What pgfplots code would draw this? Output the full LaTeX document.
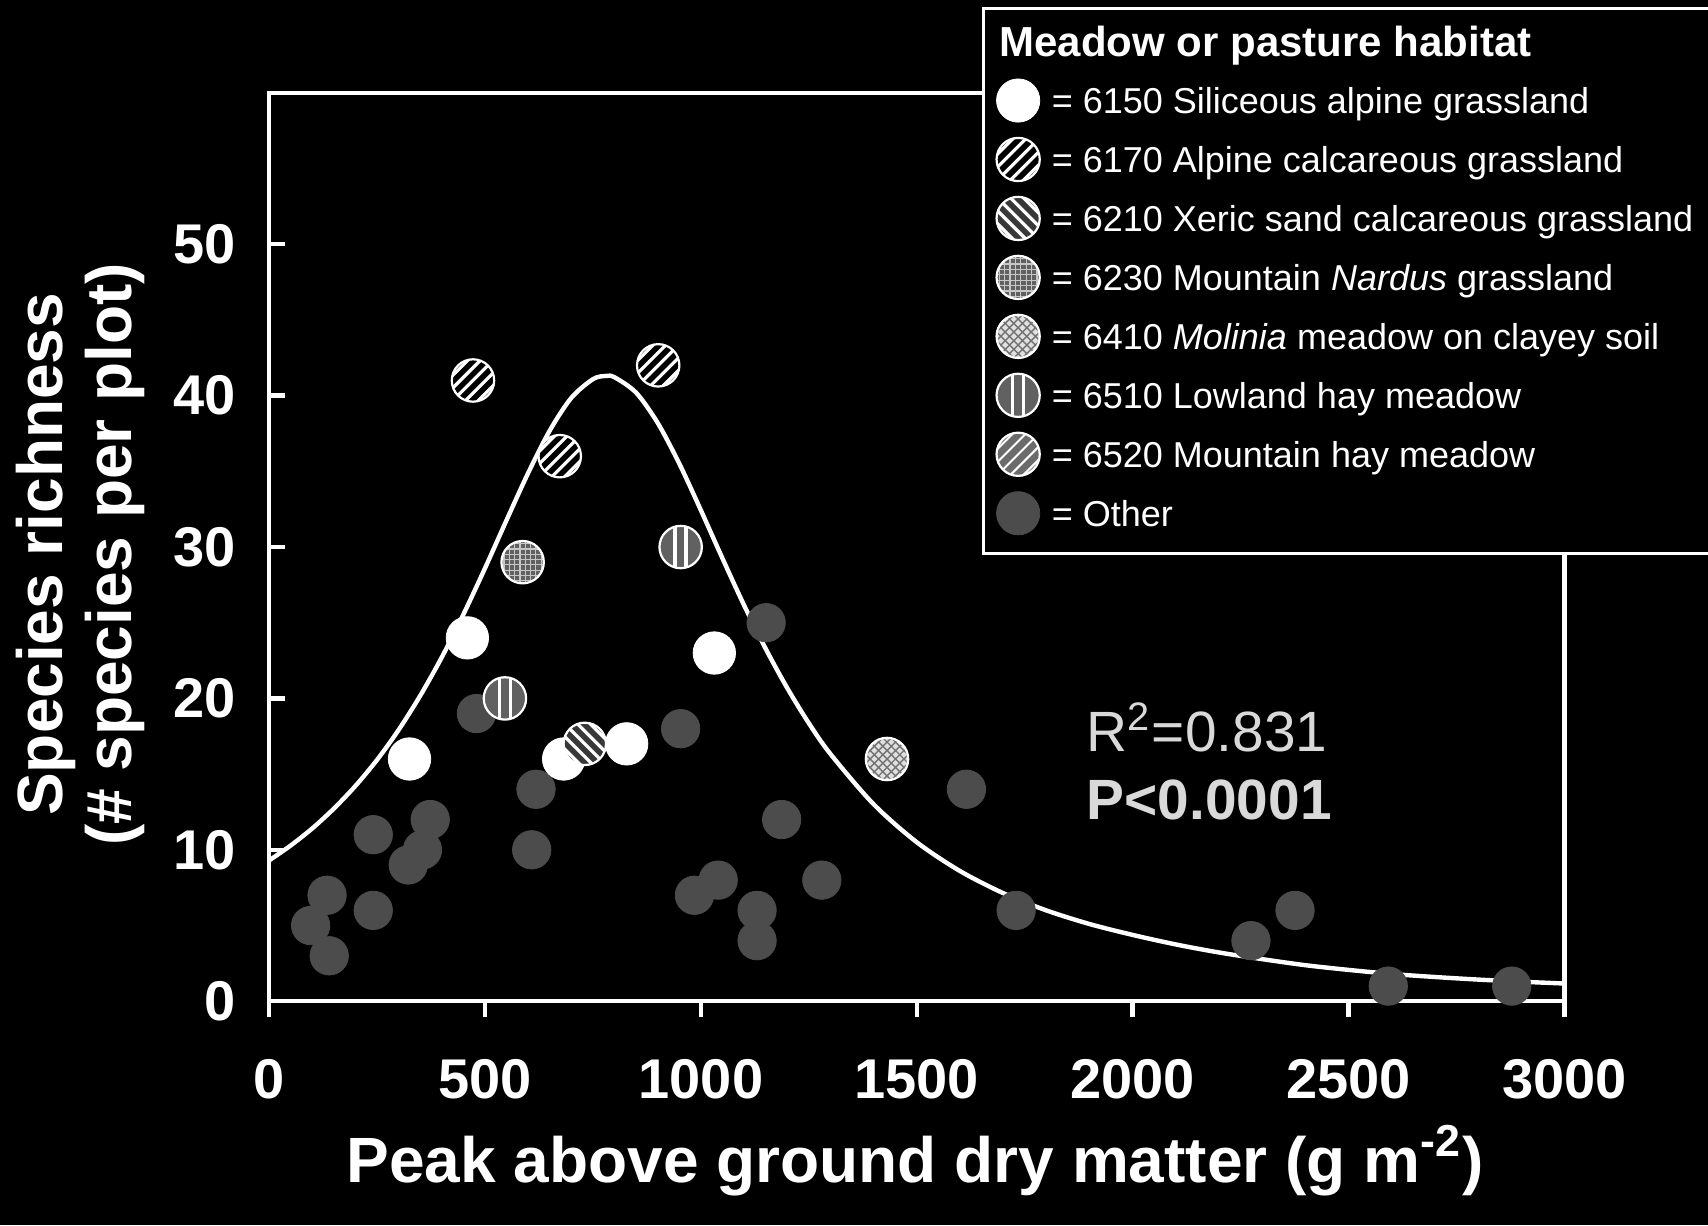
\documentclass[border=0pt]{standalone}
\usepackage{fontspec}
\setmainfont{Liberation Sans}
\usepackage{pgfplots}
\pgfplotsset{compat=1.18}

% ---- hatch helpers (offsets in units of the mark radius) ----
\newcommand\lineNE[1]{%
  \pgfpathmoveto{\pgfqpoint{-1.2\pgfplotmarksize}{\dimexpr -1.2\pgfplotmarksize + #1\pgfplotmarksize\relax}}%
  \pgfpathlineto{\pgfqpoint{1.2\pgfplotmarksize}{\dimexpr 1.2\pgfplotmarksize + #1\pgfplotmarksize\relax}}}
\newcommand\lineNW[1]{%
  \pgfpathmoveto{\pgfqpoint{-1.2\pgfplotmarksize}{\dimexpr 1.2\pgfplotmarksize + #1\pgfplotmarksize\relax}}%
  \pgfpathlineto{\pgfqpoint{1.2\pgfplotmarksize}{\dimexpr -1.2\pgfplotmarksize + #1\pgfplotmarksize\relax}}}
\newcommand\lineV[1]{%
  \pgfpathmoveto{\pgfqpoint{#1\pgfplotmarksize}{-1.2\pgfplotmarksize}}%
  \pgfpathlineto{\pgfqpoint{#1\pgfplotmarksize}{1.2\pgfplotmarksize}}}
\newcommand\lineH[1]{%
  \pgfpathmoveto{\pgfqpoint{-1.2\pgfplotmarksize}{#1\pgfplotmarksize}}%
  \pgfpathlineto{\pgfqpoint{1.2\pgfplotmarksize}{#1\pgfplotmarksize}}}

% disc with background colour #1, clipped hatching (#2 colour, #3 width, #4 lines), white ring
\newcommand\hatchedmark[4]{%
  \pgfpathcircle{\pgfpointorigin}{\pgfplotmarksize}%
  \pgfsetfillcolor{#1}\pgfusepath{fill}%
  \begin{pgfscope}%
    \pgfpathcircle{\pgfpointorigin}{\pgfplotmarksize}\pgfusepath{clip}%
    \pgfsetstrokecolor{#2}\pgfsetlinewidth{#3}\pgfsetbuttcap
    #4%
    \pgfusepath{stroke}%
  \end{pgfscope}%
  \pgfpathcircle{\pgfpointorigin}{\pgfplotmarksize}%
  \pgfsetstrokecolor{white}\pgfsetlinewidth{0.55pt}\pgfusepath{stroke}%
}

\pgfdeclareplotmark{h6170}{\hatchedmark{black}{white}{0.8pt}%
  {\lineNE{-1.2}\lineNE{-0.6}\lineNE{0}\lineNE{0.6}\lineNE{1.2}}}
\pgfdeclareplotmark{h6210}{\hatchedmark{black!78}{white}{0.8pt}%
  {\lineNW{-1.2}\lineNW{-0.6}\lineNW{0}\lineNW{0.6}\lineNW{1.2}}}
\pgfdeclareplotmark{h6230}{\hatchedmark{black!62}{black!22}{0.3pt}%
  {\lineH{-0.875}\lineH{-0.625}\lineH{-0.375}\lineH{-0.125}\lineH{0.125}\lineH{0.375}\lineH{0.625}\lineH{0.875}%
   \lineV{-0.875}\lineV{-0.625}\lineV{-0.375}\lineV{-0.125}\lineV{0.125}\lineV{0.375}\lineV{0.625}\lineV{0.875}}}
\pgfdeclareplotmark{h6410}{\hatchedmark{white!88!black}{black!55}{0.35pt}%
  {\lineNE{-1.2}\lineNE{-0.8}\lineNE{-0.4}\lineNE{0}\lineNE{0.4}\lineNE{0.8}\lineNE{1.2}%
   \lineNW{-1.2}\lineNW{-0.8}\lineNW{-0.4}\lineNW{0}\lineNW{0.4}\lineNW{0.8}\lineNW{1.2}}}
\pgfdeclareplotmark{h6510}{\hatchedmark{black!62}{white}{0.8pt}%
  {\lineV{-0.27}\lineV{0.25}}}
\pgfdeclareplotmark{h6520}{\hatchedmark{black!58}{white}{0.5pt}%
  {\lineNE{-1.2}\lineNE{-0.6}\lineNE{0}\lineNE{0.6}\lineNE{1.2}}}

\colorlet{othergray}{black!70}

\begin{document}
\begin{tikzpicture}
\fill[black] (-67.3pt,-55.98pt) rectangle (359.7pt,250.3pt);
\begin{scope}
\clip (-67.3pt,-55.98pt) rectangle (359.7pt,250.3pt);
\begin{axis}[
  at={(0pt,0pt)}, anchor=south west,
  scale only axis, width=323.8pt, height=227.1pt,
  xmin=0, xmax=3000, ymin=0, ymax=60,
  xtick={0,500,...,3000}, ytick={0,10,...,50},
  clip=false, axis on top,
  axis line style={draw=white, line width=1.1pt},
  tick style={draw=white, line width=1.1pt},
  major tick length=4pt,
  xtick align=outside, ytick align=inside, tick pos=left,
  /pgf/number format/assume math mode=true,
  /pgf/number format/1000 sep={},
  tick label style={font=\bfseries\fontsize{14}{16}\selectfont, text=white},
  xticklabel style={anchor=base, yshift=-20.4pt, inner sep=0pt},
  yticklabel style={anchor=east, xshift=-8.2pt, inner sep=0pt},
  xlabel={Peak above ground dry matter (g m\textsuperscript{-2})},
  xlabel style={at={(axis description cs:0.4987,-0.199)}, anchor=base,
    font=\bfseries\fontsize{16}{18}\selectfont, text=white},
  ylabel={Species richness\\(\# species per plot)},
  ylabel style={at={(axis description cs:-0.146,0.492)}, anchor=center,
    align=center, font=\bfseries\fontsize{16}{17.2}\selectfont, text=white},
  legend image code/.code={\draw[mark size=5.4pt,#1] plot coordinates {(0pt,0pt)};},
  legend cell align=left,
  legend style={at={(axis description cs:0.5516,1.0925)}, anchor=north west,
    draw=white, fill=black, line width=0.8pt,
    inner xsep=2.95pt, inner ysep=2.73pt, outer sep=0pt,
    row sep=0pt, column sep=2.75pt,
    font=\fontsize{9}{10}\selectfont, text=white,
    nodes={inner sep=0pt, outer sep=0pt, text height=10.57pt, text depth=4.17pt}},
]

% other habitats
\addplot[forget plot, only marks, mark=*, mark size=4.8pt,
  mark options={fill=othergray, draw=othergray, line width=0.2pt}] table {
x y
96 5
134 7
139 3
241 11
241 6
322 9
355 10
373 12
480 19
618 14
608 10
953 18
985 7
1040 8
1130 6
1130 4
1151 25
1187 12
1280 8
1615 14
1730 6
2274 4
2376 6
2592 1
2878 1
};

% fitted curve
\addplot[forget plot, no markers, white, line width=1.1pt, smooth] table {
x y
0 9.30
50 10.29
100 11.42
150 12.73
200 14.23
250 15.95
300 17.93
350 20.19
400 22.73
450 25.56
500 28.61
550 31.79
600 34.90
650 37.70
700 39.86
750 41.09
780 41.30
800 41.21
850 40.19
900 38.19
950 35.50
1000 32.42
1050 29.24
1100 26.15
1150 23.28
1200 20.68
1250 18.36
1300 16.33
1400 13.01
1500 10.50
1600 8.60
1700 7.14
1800 6.00
1900 5.10
2000 4.38
2100 3.75
2200 3.22
2300 2.78
2400 2.38
2500 2.07
2600 1.80
2700 1.60
2800 1.43
2900 1.29
3000 1.17
};

% 6150 siliceous alpine grassland
\addplot[forget plot, only marks, mark=*, mark size=5.3pt,
  mark options={fill=white, draw=white, line width=0.2pt}] table {
x y
325 16
459 24
682 16
828 17
1031 23
};
% 6170 alpine calcareous grassland
\addplot[forget plot, only marks, mark=h6170, mark size=5.3pt] table {
x y
472 41
673 36
901 42
};
% 6210 xeric sand calcareous grassland
\addplot[forget plot, only marks, mark=h6210, mark size=5.3pt] table {
x y
731 17
};
% 6230 mountain Nardus grassland
\addplot[forget plot, only marks, mark=h6230, mark size=5.3pt] table {
x y
587 29
};
% 6410 Molinia meadow
\addplot[forget plot, only marks, mark=h6410, mark size=5.3pt] table {
x y
1431 16
};
% 6510 lowland hay meadow
\addplot[forget plot, only marks, mark=h6510, mark size=5.3pt] table {
x y
546 20
953 30
};

% legend
\addlegendimage{empty legend}
\addlegendentry[font=\bfseries\fontsize{10.5}{12}\selectfont, text height=9.3pt, text depth=3.53pt]{\hspace*{-13.1pt}Meadow or pasture habitat}
\addlegendimage{only marks, mark=*, mark size=5.5pt, mark options={fill=white, draw=white, line width=0.2pt}}
\addlegendentry{= 6150 Siliceous alpine grassland}
\addlegendimage{only marks, mark=h6170}
\addlegendentry{= 6170 Alpine calcareous grassland}
\addlegendimage{only marks, mark=h6210}
\addlegendentry{= 6210 Xeric sand calcareous grassland\hspace*{10pt}}
\addlegendimage{only marks, mark=h6230}
\addlegendentry{= 6230 Mountain \textit{Nardus} grassland}
\addlegendimage{only marks, mark=h6410}
\addlegendentry{= 6410 \textit{Molinia} meadow on clayey soil}
\addlegendimage{only marks, mark=h6510}
\addlegendentry{= 6510 Lowland hay meadow}
\addlegendimage{only marks, mark=h6520}
\addlegendentry{= 6520 Mountain hay meadow}
\addlegendimage{only marks, mark=*, mark size=5pt, mark options={fill=othergray, draw=othergray, line width=0.2pt}}
\addlegendentry{= Other}

\node[anchor=base west, inner sep=0pt, text=white!85!black,
  font=\fontsize{14.2}{16}\selectfont] at (axis cs:1892,16.5) {R\textsuperscript{2}=0.831};
\node[anchor=base west, inner sep=0pt, text=white!85!black,
  font=\bfseries\fontsize{14.2}{16}\selectfont] at (axis cs:1892,12.0) {P<0.0001};
\end{axis}
\end{scope}
\pgfresetboundingbox
\path[use as bounding box] (-67.3pt,-55.98pt) rectangle (359.7pt,250.3pt);
\end{tikzpicture}
\end{document}
